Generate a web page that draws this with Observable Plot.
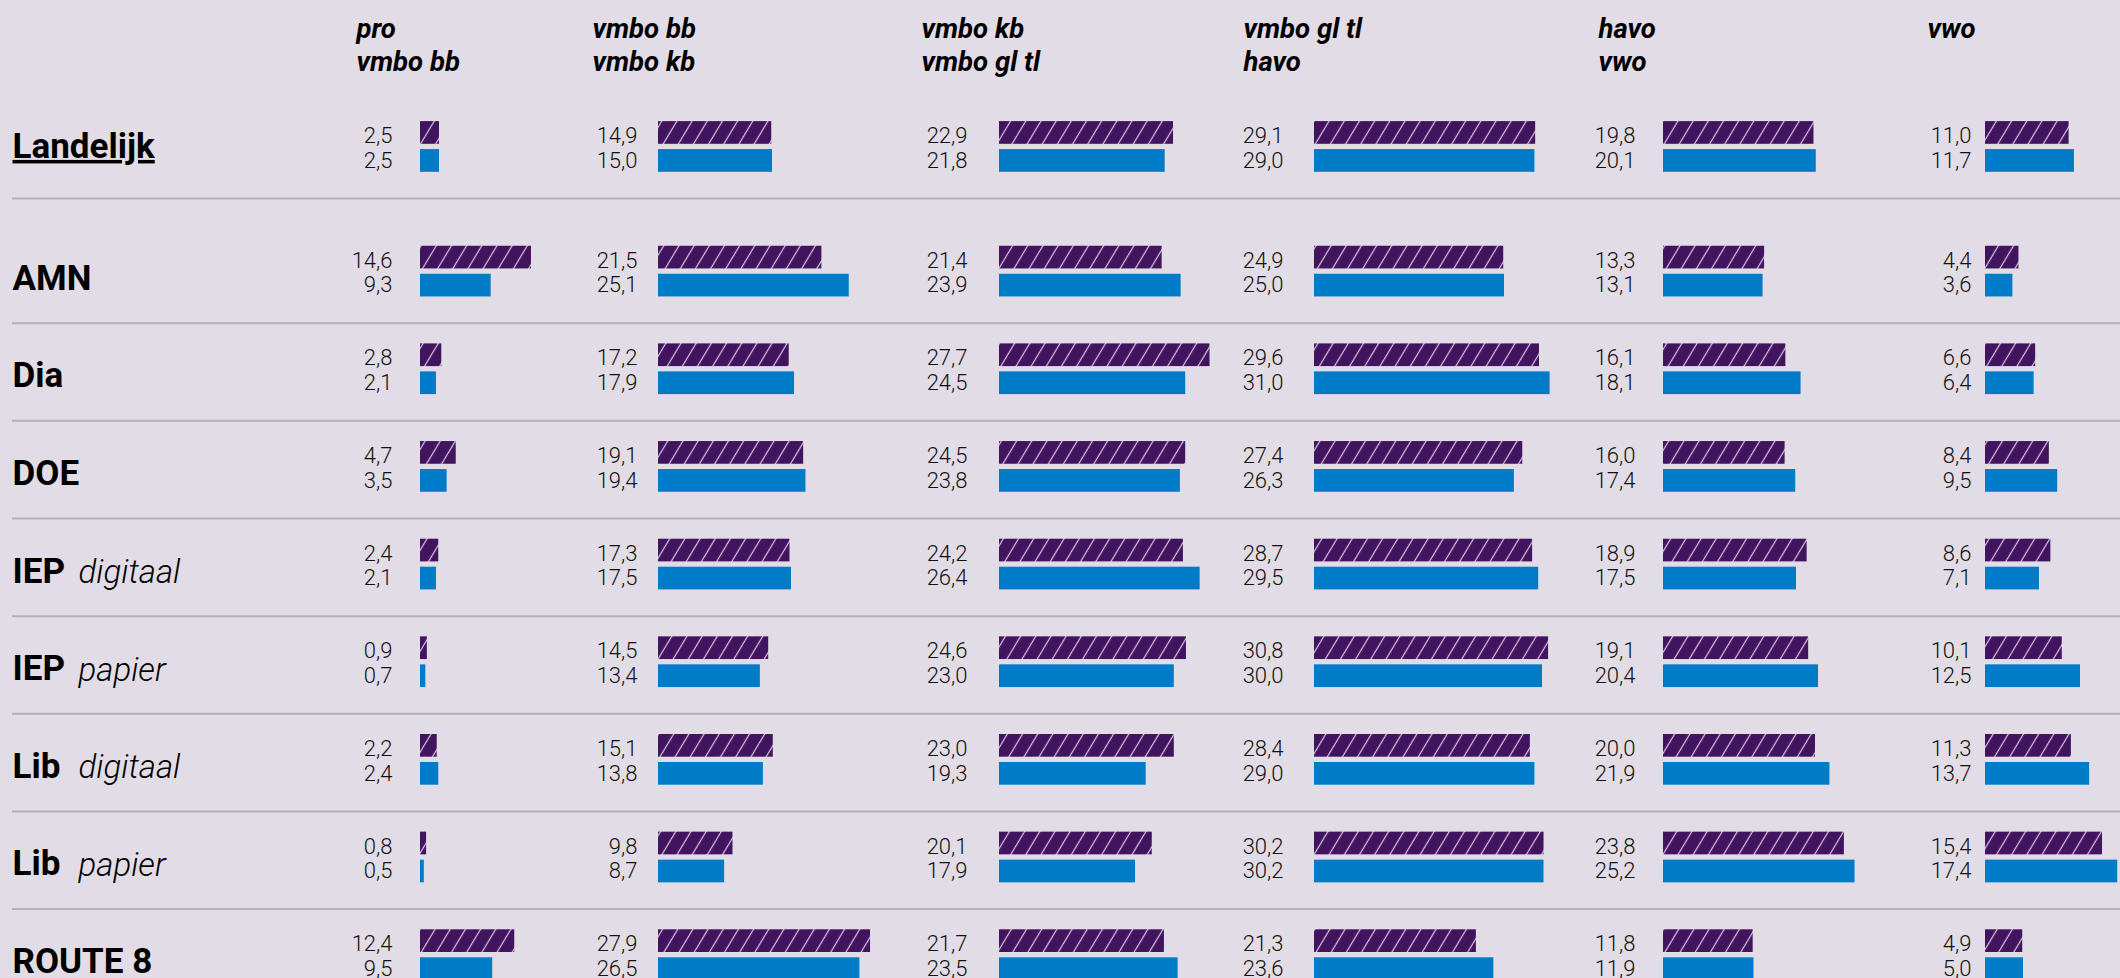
<!DOCTYPE html>
<html>
<head>
<meta charset="utf-8">
<script src="https://cdn.jsdelivr.net/npm/d3@7"></script>
<script src="https://cdn.jsdelivr.net/npm/@observablehq/plot@0.6"></script>
<style>
  html, body { margin: 0; padding: 0; background: #e2dce6; overflow: hidden; }
  #chart svg { display: block; }
</style>
</head>
<body>
<div id="chart"></div>
<script>
// ---------- DATA ----------
const levels = ["pro\nvmbo bb", "vmbo bb\nvmbo kb", "vmbo kb\nvmbo gl tl", "vmbo gl tl\nhavo", "havo\nvwo", "vwo"];
const rows = ["Landelijk", "AMN", "Dia", "DOE", "IEP digitaal", "IEP papier", "Lib digitaal", "Lib papier", "ROUTE 8"];
const rowNames = ["Landelijk", "AMN", "Dia", "DOE", "IEP", "IEP", "Lib", "Lib", "ROUTE 8"];
const rowSuffixes = ["", "", "", "", "digitaal", "papier", "digitaal", "papier", ""];

// upper (hatched, purple) bars, per row, per level column
const hatchedValues = [
  [2.5, 14.9, 22.9, 29.1, 19.8, 11.0],
  [14.6, 21.5, 21.4, 24.9, 13.3, 4.4],
  [2.8, 17.2, 27.7, 29.6, 16.1, 6.6],
  [4.7, 19.1, 24.5, 27.4, 16.0, 8.4],
  [2.4, 17.3, 24.2, 28.7, 18.9, 8.6],
  [0.9, 14.5, 24.6, 30.8, 19.1, 10.1],
  [2.2, 15.1, 23.0, 28.4, 20.0, 11.3],
  [0.8, 9.8, 20.1, 30.2, 23.8, 15.4],
  [12.4, 27.9, 21.7, 21.3, 11.8, 4.9]
];
// lower (solid, blue) bars
const solidValues = [
  [2.5, 15.0, 21.8, 29.0, 20.1, 11.7],
  [9.3, 25.1, 23.9, 25.0, 13.1, 3.6],
  [2.1, 17.9, 24.5, 31.0, 18.1, 6.4],
  [3.5, 19.4, 23.8, 26.3, 17.4, 9.5],
  [2.1, 17.5, 26.4, 29.5, 17.5, 7.1],
  [0.7, 13.4, 23.0, 30.0, 20.4, 12.5],
  [2.4, 13.8, 19.3, 29.0, 21.9, 13.7],
  [0.5, 8.7, 17.9, 30.2, 25.2, 17.4],
  [9.5, 26.5, 23.5, 23.6, 11.9, 5.0]
];

// ---------- LAYOUT ----------
const W = 2120, H = 978;
const PXU = 7.6;                       // pixels per percentage point
const colStartPx = [420, 658, 999, 1314, 1663, 1985];
const labelGapPx = [28, 21, 32, 31, 28, 14];
const headerIndentPx = [64, 66, 78, 71, 65, 58];
const STEP = 97.65, Y0 = 127.4;
const NAT_DY = -27;

const PURPLE = "#42145f", BLUE = "#007bc7", SEP = "#b5afb9";

const table = [];
rows.forEach((r, i) => levels.forEach((l, j) => table.push({
  row: r, ri: i, col: j, hatched: hatchedValues[i][j], solid: solidValues[i][j]
})));
const nat = table.filter(d => d.ri === 0);
const sch = table.filter(d => d.ri > 0);
const fmt = v => d3.format(".1f")(v).replace(".", ",");
const start = d => colStartPx[d.col] / PXU;
const labelX = d => (colStartPx[d.col] - labelGapPx[d.col]) / PXU;

function groupMarks(subset, rowList, dy) {
  return [
    Plot.ruleY(rowList, {y: d => d, dy: dy + STEP / 2, insetLeft: 12, stroke: SEP, strokeWidth: 2}),
    Plot.barX(subset, {y: "row", x1: start, x2: d => start(d) + d.hatched, fill: "url(#hatch)",
      insetTop: 20.7, insetBottom: STEP - 43.4, dy}),
    Plot.barX(subset, {y: "row", x1: start, x2: d => start(d) + d.solid, fill: BLUE,
      insetTop: 48.7, insetBottom: STEP - 71.4, dy}),
    Plot.text(subset, {y: "row", x: labelX, text: d => fmt(d.hatched), textAnchor: "end",
      dy: dy - 13.8, fontSize: 22, fontWeight: 300, fill: "#111"}),
    Plot.text(subset, {y: "row", x: labelX, text: d => fmt(d.solid), textAnchor: "end",
      dy: dy + 11, fontSize: 22, fontWeight: 300, fill: "#111"})
  ];
}

const schoolIdx = d3.range(1, rows.length);

const chart = Plot.plot({
  width: W, height: H,
  marginTop: 0, marginLeft: 0, marginRight: 0, marginBottom: 0,
  style: {background: "transparent", fontFamily: "Roboto, 'Noto Sans', sans-serif", color: "#000", overflow: "hidden"},
  x: {domain: [0, W / PXU], range: [0, W], axis: null},
  y: {type: "band", domain: rows, range: [Y0, Y0 + rows.length * STEP], padding: 0, round: false, axis: null},
  marks: [
    // column headers
    Plot.text(levels, {x: (d, i) => (colStartPx[i] - headerIndentPx[i]) / PXU, frameAnchor: "top",
      text: d => d, textAnchor: "start", lineAnchor: "top", dy: 14.5, lineHeight: 1.2,
      fontSize: 27.5, fontWeight: 700, fontStyle: "italic", fill: "#000"}),
    // national row
    ...groupMarks(nat, ["Landelijk"], NAT_DY),
    Plot.text(["Landelijk"], {y: d => d, text: d => d, frameAnchor: "left", dx: 12, dy: NAT_DY - 3,
      textAnchor: "start", fontSize: 35, fontWeight: 700, fill: "#000"}),
    // school rows
    ...groupMarks(sch, schoolIdx.map(i => rows[i]), 0),
    Plot.text(schoolIdx, {y: i => rows[i], text: i => rowNames[i], frameAnchor: "left", dx: 12, dy: 4,
      textAnchor: "start", fontSize: 35, fontWeight: 700, fill: "#000"}),
    Plot.text(schoolIdx.filter(i => rowSuffixes[i]), {y: i => rows[i], text: i => rowSuffixes[i],
      frameAnchor: "left", dx: 78, dy: 5, textAnchor: "start", fontSize: 33, fontWeight: 300,
      fontStyle: "italic", fill: "#000"})
  ]
});

// hatch pattern definition
const ns = "http://www.w3.org/2000/svg";
const defs = document.createElementNS(ns, "defs");
const pat = document.createElementNS(ns, "pattern");
const P = 13;
pat.setAttribute("id", "hatch");
pat.setAttribute("patternUnits", "userSpaceOnUse");
pat.setAttribute("width", P);
pat.setAttribute("height", P);
pat.setAttribute("patternTransform", "rotate(31)");
const bg = document.createElementNS(ns, "rect");
bg.setAttribute("width", P); bg.setAttribute("height", P); bg.setAttribute("fill", PURPLE);
const ln = document.createElementNS(ns, "line");
ln.setAttribute("x1", P / 2); ln.setAttribute("x2", P / 2); ln.setAttribute("y1", -2); ln.setAttribute("y2", P + 2);
ln.setAttribute("stroke", "#d6c8e0"); ln.setAttribute("stroke-width", "1.2");
pat.appendChild(bg); pat.appendChild(ln); defs.appendChild(pat);
chart.insertBefore(defs, chart.firstChild);

// underline the national label
chart.querySelectorAll("text").forEach(t => {
  if (t.textContent === "Landelijk") {
    t.setAttribute("text-decoration", "underline");
    t.style.textDecoration = "underline";
    t.style.textUnderlineOffset = "6px";
    t.style.textDecorationThickness = "2px";
  }
});

document.getElementById("chart").appendChild(chart);
</script>
</body>
</html>
